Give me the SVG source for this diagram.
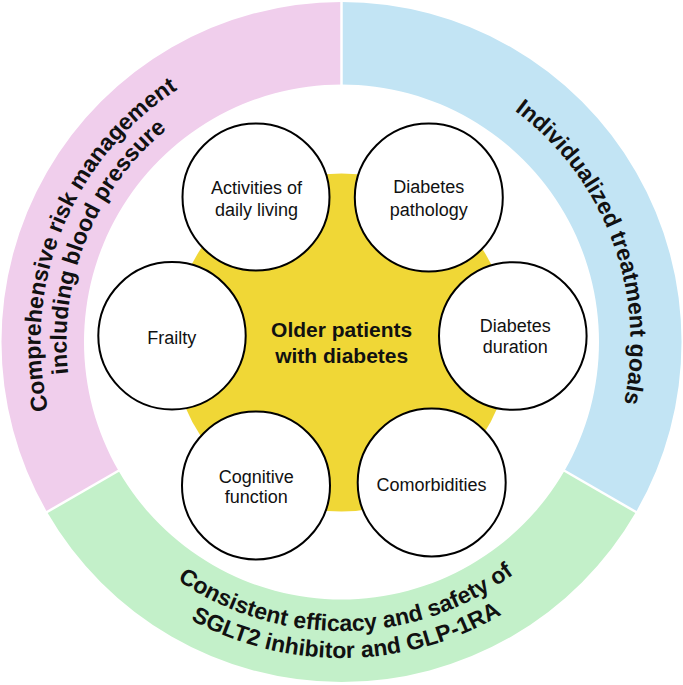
<svg xmlns="http://www.w3.org/2000/svg" width="683" height="685" viewBox="0 0 683 685">
<style>
.node circle{fill:#fff;stroke:#000;stroke-width:2}
.lbl{font-family:"Liberation Sans",Arial,sans-serif;font-size:18px;fill:#111;text-anchor:middle}
.ctr{font-family:"Liberation Sans",Arial,sans-serif;font-size:21px;font-weight:bold;fill:#111;text-anchor:middle}
.ring{font-family:"Liberation Sans",Arial,sans-serif;font-size:23px;font-weight:bold;fill:#111}
.div{stroke:#fff;stroke-width:2.5}
</style>
<defs>
<path id="pinkOuter" d="M 204.85 610.19 A 301 301 0 0 1 429.51 54.15" fill="none"/>
<path id="pinkInner" d="M 216.65 587.03 A 275 275 0 0 1 421.91 79.02" fill="none"/>
<path id="blueArc" d="M 264.28 63.52 A 289 289 0 0 1 465.91 602.85" fill="none"/>
<path id="greenInner" d="M 54.09 372.20 A 289 289 0 0 0 629.81 362.17" fill="none"/>
<path id="greenOuter" d="M 27.24 375.02 A 316 316 0 0 0 656.74 364.06" fill="none"/>
</defs>
<rect width="683" height="685" fill="#fff"/>
<g id="ring">
<path id="sector-blue" d="M 341.5 2 A 340 340 0 0 1 635.95 512 L 564.5 470.75 A 257.5 257.5 0 0 0 341.5 84.5 Z" fill="#C2E4F4"/>
<path id="sector-green" d="M 635.95 512 A 340 340 0 0 1 47.05 512 L 118.5 470.75 A 257.5 257.5 0 0 0 564.5 470.75 Z" fill="#C3F0C9"/>
<path id="sector-pink" d="M 47.05 512 A 340 340 0 0 1 341.5 2 L 341.5 84.5 A 257.5 257.5 0 0 0 118.5 470.75 Z" fill="#F0CEEC"/>
<line class="div" x1="341.5" y1="0" x2="341.5" y2="86"/>
<line class="div" x1="637.7" y1="513" x2="563.2" y2="470"/>
<line class="div" x1="45.3" y1="513" x2="119.8" y2="470"/>
</g>
<g id="ring-labels">
<text class="ring"><textPath href="#pinkOuter" startOffset="50%" text-anchor="middle">Comprehensive risk management</textPath></text>
<text class="ring"><textPath href="#pinkInner" startOffset="50%" text-anchor="middle">including blood pressure</textPath></text>
<text class="ring"><textPath href="#blueArc" startOffset="50%" text-anchor="middle">Individualized treatment goals</textPath></text>
<text class="ring"><textPath href="#greenInner" startOffset="50%" text-anchor="middle">Consistent efficacy and safety of</textPath></text>
<text class="ring"><textPath href="#greenOuter" startOffset="50%" text-anchor="middle">SGLT2 inhibitor and GLP-1RA</textPath></text>
</g>
<g id="center">
<circle cx="341.5" cy="342.5" r="169" fill="#F0D736"/>
<text class="ctr" x="341.7" y="336.7">Older patients</text>
<text class="ctr" x="341.7" y="363.3">with diabetes</text>
</g>
<g id="connectors"></g>
<g id="node-activities" class="node">
<circle cx="256" cy="197" r="73.5"/>
<text class="lbl" x="256.5" y="194.3">Activities of</text>
<text class="lbl" x="256.5" y="216">daily living</text>
</g>
<g id="node-pathology" class="node">
<circle cx="428.8" cy="197.5" r="74"/>
<text class="lbl" x="428.8" y="193.3">Diabetes</text>
<text class="lbl" x="428.8" y="216">pathology</text>
</g>
<g id="node-frailty" class="node">
<circle cx="172" cy="335.8" r="73.7"/>
<text class="lbl" x="171.7" y="344.3">Frailty</text>
</g>
<g id="node-duration" class="node">
<circle cx="512.8" cy="336" r="73.8"/>
<text class="lbl" x="515.2" y="331.7">Diabetes</text>
<text class="lbl" x="515.2" y="353.3">duration</text>
</g>
<g id="node-cognitive" class="node">
<circle cx="256" cy="485.5" r="74"/>
<text class="lbl" x="256.2" y="482.7">Cognitive</text>
<text class="lbl" x="256.2" y="503.3">function</text>
</g>
<g id="node-comorbidities" class="node">
<circle cx="431.7" cy="482.5" r="74"/>
<text class="lbl" x="431.5" y="490.7">Comorbidities</text>
</g>
</svg>
